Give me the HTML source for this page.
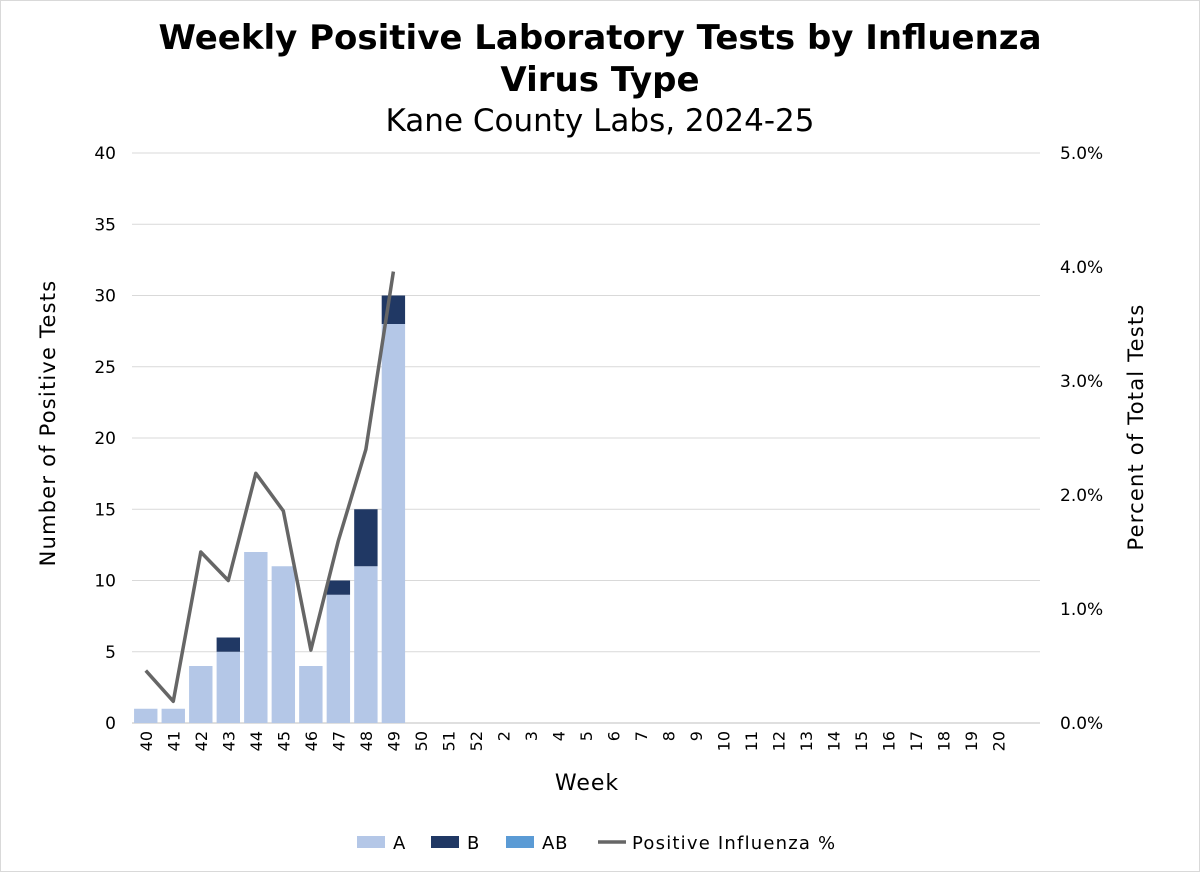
<!DOCTYPE html>
<html><head><meta charset="utf-8"><style>
html,body{margin:0;padding:0;background:#fff}
svg text{font-family:"DejaVu Sans","Liberation Sans",sans-serif;fill:#000}
</style></head><body>
<svg id="chart" width="1200" height="872" xmlns="http://www.w3.org/2000/svg">
<rect x="0.5" y="0.5" width="1199" height="871" fill="#fff" stroke="#d9d9d9"/>
<text x="600" y="49" text-anchor="middle" font-size="34" font-weight="bold">Weekly Positive Laboratory Tests by Influenza</text>
<text x="600" y="91" text-anchor="middle" font-size="34" font-weight="bold">Virus Type</text>
<text x="600" y="131" text-anchor="middle" font-size="31">Kane County Labs, 2024-25</text>
<g id="grid"></g><g id="bars"></g><g id="line"></g><g id="axes"></g>
<text transform="translate(55,423) rotate(-90)" text-anchor="middle" font-size="21" letter-spacing="1.2">Number of Positive Tests</text>
<text transform="translate(1143,427) rotate(-90)" text-anchor="middle" font-size="21" letter-spacing="1.2">Percent of Total Tests</text>
<text x="587" y="790" text-anchor="middle" font-size="22" letter-spacing="1">Week</text>
<g>
<g><rect x="357" y="836" width="28" height="12" fill="#b4c7e7"/><text x="393" y="849" font-size="18" letter-spacing="0.8">A</text></g>
<g><rect x="431" y="836" width="28" height="12" fill="#203864"/><text x="467" y="849" font-size="18" letter-spacing="0.8">B</text></g>
<g><rect x="506" y="836" width="28" height="12" fill="#5b9bd5"/><text x="542" y="849" font-size="18" letter-spacing="0.8">AB</text></g>
<g><line x1="598" y1="842" x2="626" y2="842" stroke="#666" stroke-width="3.5"/><text x="632" y="849" font-size="18" letter-spacing="1.2">Positive Influenza %</text></g>
</g>
</svg>
<script>
const weeks=["40","41","42","43","44","45","46","47","48","49","50","51","52","2","3","4","5","6","7","8","9","10","11","12","13","14","15","16","17","18","19","20",""];
const seriesA=[1,1,4,5,12,11,4,9,11,28];
const seriesB=[0,0,0,1,0,0,0,1,4,2];
const seriesAB=[0,0,0,0,0,0,0,0,0,0];
const pctPositive=[0.46,0.19,1.5,1.25,2.19,1.86,0.64,1.6,2.4,3.96];
const yTicks=[0,5,10,15,20,25,30,35,40];
const y2Ticks=["0.0%","1.0%","2.0%","3.0%","4.0%","5.0%"];
const NS="http://www.w3.org/2000/svg";
const L=132,R=1040,T=153,B=723;
const bw=(R-L)/weeks.length;
const y=v=>B-(v/40)*(B-T);
const y2=v=>B-(v/5)*(B-T);
const xc=i=>L+bw*(i+0.5);
function mk(tag,attrs,parent,txt){const e=document.createElementNS(NS,tag);for(const k in attrs)e.setAttribute(k,attrs[k]);if(txt!=null)e.textContent=txt;document.getElementById(parent).appendChild(e);return e;}
yTicks.forEach(t=>{
 const g=mk('line',{x1:L,x2:R,y1:y(t),y2:y(t),stroke:t===0?'#bfbfbf':'#d9d9d9','stroke-width':1},'grid');
 
 
 const l=mk('text',{x:116,y:y(t)+6,'text-anchor':'end','font-size':17},'axes',t);
 
 
});
y2Ticks.forEach((t,i)=>{
 const l=mk('text',{x:1060,y:y2(i)+6,'font-size':17},'axes',t);
 
 
});
weeks.forEach((w,i)=>{
 if(!w)return;
 const l=mk('text',{transform:`translate(${xc(i)+6},${731}) rotate(-90)`,'text-anchor':'end','font-size':16},'axes',w);
 
 
});
const w=bw*0.85;
seriesA.forEach((a,i)=>{
 const b=seriesB[i],ab=seriesAB[i];
 const ra=mk('rect',{x:xc(i)-w/2,y:y(a),width:w,height:B-y(a),fill:'#b4c7e7'},'bars');
 
 
 if(b>0){const rb=mk('rect',{x:xc(i)-w/2,y:y(a+b),width:w,height:y(a)-y(a+b),fill:'#203864'},'bars');
 
 }
 if(ab>0){const rc=mk('rect',{x:xc(i)-w/2,y:y(a+b+ab),width:w,height:y(a+b)-y(a+b+ab),fill:'#5b9bd5'},'bars');
 
 }
});
const pts=pctPositive.map((p,i)=>xc(i)+','+y2(p)).join(' ');
const pl=mk('polyline',{points:pts,fill:'none',stroke:'#666','stroke-width':3.5,'stroke-linejoin':'round'},'line');


</script>
</body></html>
